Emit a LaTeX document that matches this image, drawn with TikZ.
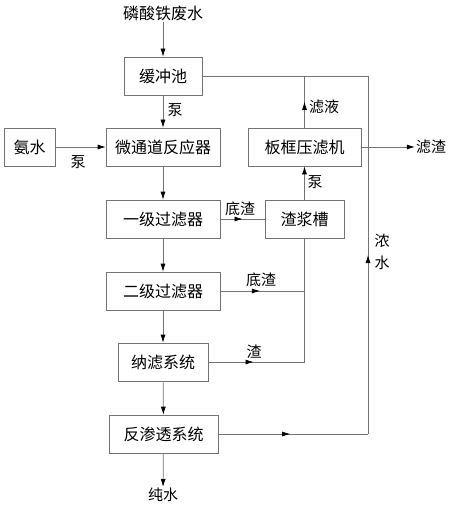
\documentclass[tikz,border=0pt]{standalone}
\usepackage{fontspec}
\setmainfont{Noto Sans CJK SC}
\usetikzlibrary{arrows.meta,decorations.markings}

\tikzset{
  unit/.style={draw=black!55, line width=0.7pt, minimum height=38pt, inner sep=0pt, font=\fontsize{16}{16}\selectfont},
  lbl/.style={inner sep=1pt, font=\fontsize{15}{15}\selectfont},
  flow/.style={draw=black!55, line width=0.7pt},
  midarrow/.style={postaction={decorate}, decoration={markings, mark=at position #1 with {\arrow{Latex[length=8pt,width=5pt,color=black]}}}}
}

\begin{document}
\begin{tikzpicture}[x=1pt, y=-1pt, >={Latex[length=8pt,width=5pt,color=black]}]
	  \useasboundingbox (0,0) rectangle (450,505);
	  % units
	  \draw(163, 76) node[unit, minimum width=78pt](pool) {缓冲池};
	  \draw(29.5, 147) node[unit, minimum width=51pt](nh3) {氨水};
	  \draw(304.5, 147) node[unit, minimum width=113pt](press) {板框压滤机};
	  \foreach \y / \nm / \txt in {147/reactor/微通道反应器, 219/filter1/一级过滤器, 291/filter2/二级过滤器}
	  {
		\draw(163, \y) node[unit, minimum width=114pt](\nm) {\txt};
	  }
	  \draw(304.5, 219) node[unit, minimum width=79pt](tank) {渣浆槽};
	  \draw(163, 362) node[unit, minimum width=90pt](nano) {纳滤系统};
	  \draw(163.5, 434) node[unit, minimum width=109pt](ro) {反渗透系统};
	  % in and out
	  \draw(163, 13) node[lbl, font=\fontsize{16}{16}\selectfont](feed) {磷酸铁废水};
	  \draw(163, 495) node[lbl](pure) {纯水};
	  \draw(431, 147) node[lbl](cake) {滤渣};
	  \coordinate (tc) at (368, 76);
	  \coordinate (rc) at (368, 434);
	  \coordinate (lq) at (304.5, 76);
	  \coordinate (s2) at (304.5, 291);
	  \coordinate (s3) at (304.5, 362);
	  % main line
	  \draw[flow, ->](feed) -- (pool);
	  \draw[flow, ->](pool) -- (reactor);
	  \draw[flow, ->](nh3) -- (reactor);
	  \draw[flow, ->](reactor) -- (filter1);
	  \draw[flow, ->](filter1) -- (filter2);
	  \draw[flow, ->](filter2) -- (nano);
	  \draw[flow, ->](nano) -- (ro);
	  \draw[flow, ->](ro) -- (pure);
	  % residue
	  \draw[flow, midarrow=.5](filter1) -- (tank);
	  \draw[flow, midarrow=.47](filter2.east) -- (s2);
	  \draw[flow, midarrow=.47](nano.east) -- (s3);
	  \draw[flow](tank) -- (s3);
	  \draw[flow, ->](tank) -- (press);
	  \draw[flow, ->](press) -- (cake);
	  \draw[flow, midarrow=.5](press) -- (lq);
	  % concentrate back to pool
	  \draw[flow, midarrow=.48](ro.east) -- (rc);
	  \draw[flow, midarrow=.5](rc) -- (tc);
	  \draw[flow](tc) -- (pool.east);
	  % labels
	  \draw(175, 110) node[lbl] {泵};
	  \draw(78, 162) node[lbl] {泵};
	  \draw(315, 182) node[lbl] {泵};
	  \draw(324, 107) node[lbl] {滤液};
	  \draw(240, 209) node[lbl] {底渣};
	  \draw(261, 280) node[lbl] {底渣};
	  \draw(254, 352) node[lbl] {渣};
	  \draw(382, 241) node[lbl] {浓};
	  \draw(382, 263) node[lbl] {水};
	\end{tikzpicture}
\end{document}
